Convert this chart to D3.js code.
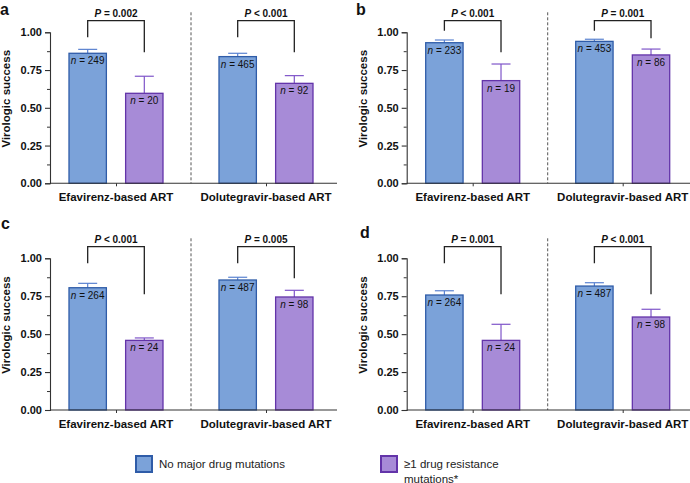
<!DOCTYPE html>
<html>
<head>
<meta charset="utf-8">
<script src="https://cdn.jsdelivr.net/npm/d3@7/dist/d3.min.js"></script>
<style>
  body { margin: 0; background: #fff; }
  svg { display: block; font-family: "Liberation Sans", Arial, Helvetica, sans-serif; }
</style>
</head>
<body>
<svg id="chart" width="690" height="483"></svg>
<script>
// ---------- DATA ----------
const groups = ["Efavirenz-based ART", "Dolutegravir-based ART"];
const series = ["No major drug mutations", "≥1 drug resistance mutations*"];
const panelIds = ["a", "b", "c", "d"];
const yTicks = [0, 0.25, 0.5, 0.75, 1.0];
const yMinorTicks = [0.125, 0.375, 0.625, 0.875];
const yLabel = "Virologic success";

// values ordered: [EFV-noMut, EFV-mut, DTG-noMut, DTG-mut]
const successA = [0.861, 0.596, 0.839, 0.662];
const upperA   = [0.887, 0.709, 0.861, 0.713];
const nA       = [249, 20, 465, 92];
const pA       = ["= 0.002", "< 0.001"];
const bracketLegA = [[0.967, 0.868], [0.967, 0.868]];

const successB = [0.931, 0.680, 0.940, 0.850];
const upperB   = [0.949, 0.790, 0.954, 0.889];
const nB       = [233, 19, 453, 86];
const pB       = ["< 0.001", "= 0.001"];
const bracketLegB = [[1.011, 0.868], [1.011, 0.960]];

const successC = [0.806, 0.459, 0.857, 0.745];
const upperC   = [0.835, 0.475, 0.875, 0.789];
const nC       = [264, 24, 487, 98];
const pC       = ["< 0.001", "= 0.005"];
const bracketLegC = [[0.967, 0.763], [0.967, 0.868]];

const successD = [0.758, 0.459, 0.817, 0.613];
const upperD   = [0.786, 0.565, 0.839, 0.664];
const nD       = [264, 24, 487, 98];
const pD       = ["= 0.001", "< 0.001"];
const bracketLegD = [[0.967, 0.763], [0.967, 0.763]];

const bracketTop = 1.077;

const panelData = {
  a: {v: successA, up: upperA, n: nA, p: pA, legs: bracketLegA},
  b: {v: successB, up: upperB, n: nB, p: pB, legs: bracketLegB},
  c: {v: successC, up: upperC, n: nC, p: pC, legs: bracketLegC},
  d: {v: successD, up: upperD, n: nD, p: pD, legs: bracketLegD}
};

// ---------- STYLE / LAYOUT ----------
const fills   = ["#7ba2d9", "#a78bd7"];
const strokes = ["#2f5ca8", "#6334a9"];
const errCol  = ["#5a82d0", "#7f55c9"];
const layout = {
  a: {x: 50,    y0: 183.3, y1: 32.3,  lx: 0,   ly: 15},
  b: {x: 406.7, y0: 183.3, y1: 32.3,  lx: 356, ly: 15},
  c: {x: 50,    y0: 410,   y1: 258.3, lx: 1,   ly: 229},
  d: {x: 406.7, y0: 410,   y1: 258.3, lx: 360, ly: 238}
};
const plotW = 287;

const svg = d3.select("#chart");

panelIds.forEach(id => {
  const L = layout[id], D = panelData[id];
  const g = svg.append("g");
  const y = d3.scaleLinear().domain([0, 1]).range([L.y0, L.y1]);
  const x = d3.scalePoint().domain(groups).range([L.x + 66, L.x + 216]);
  const xi = d3.scaleBand().domain(series).range([-47, 47]).paddingInner(0.34).paddingOuter(0);

  // panel letter
  g.append("text").attr("x", L.lx).attr("y", L.ly)
    .attr("font-size", 16).attr("font-weight", "bold").attr("fill", "#111").text(id);

  // divider
  const midX = (x(groups[0]) + x(groups[1])) / 2;
  g.append("line").attr("x1", midX).attr("x2", midX)
    .attr("y1", y(1) - 20).attr("y2", L.y0)
    .attr("stroke", "#555").attr("stroke-width", 1).attr("stroke-dasharray", "3,2");

  // bars
  const rows = [];
  groups.forEach((gr, gi) => series.forEach((s, si) => {
    const k = gi * 2 + si;
    rows.push({gr, s, si, v: D.v[k], up: D.up[k], n: D.n[k]});
  }));

  rows.forEach(r => {
    const cx = x(r.gr) + xi(r.s) + xi.bandwidth() / 2;
    // error bar (upper)
    g.append("line").attr("x1", cx).attr("x2", cx).attr("y1", y(r.v)).attr("y2", y(r.up))
      .attr("stroke", errCol[r.si]).attr("stroke-width", 1.2);
    g.append("line").attr("x1", cx - 9.5).attr("x2", cx + 9.5).attr("y1", y(r.up)).attr("y2", y(r.up))
      .attr("stroke", errCol[r.si]).attr("stroke-width", 1.2);
    g.append("rect")
      .attr("x", x(r.gr) + xi(r.s)).attr("y", y(r.v))
      .attr("width", xi.bandwidth()).attr("height", y(0) - y(r.v))
      .attr("fill", fills[r.si]).attr("stroke", strokes[r.si]).attr("stroke-width", 1.3);
    const t = g.append("text").attr("x", cx).attr("y", y(r.v) + 11)
      .attr("text-anchor", "middle").attr("font-size", 10).attr("fill", "#111");
    t.append("tspan").attr("font-style", "italic").text("n");
    t.append("tspan").text(" = " + r.n);
  });

  // brackets
  groups.forEach((gr, gi) => {
    const xl = x(gr) + xi(series[0]) + xi.bandwidth() / 2;
    const xr = x(gr) + xi(series[1]) + xi.bandwidth() / 2;
    const legs = D.legs[gi];
    g.append("path")
      .attr("d", `M${xl},${y(legs[0])}V${y(bracketTop)}H${xr}V${y(legs[1])}`)
      .attr("fill", "none").attr("stroke", "#222").attr("stroke-width", 1.3);
    const t = g.append("text").attr("x", (xl + xr) / 2).attr("y", y(bracketTop) - 4)
      .attr("text-anchor", "middle").attr("font-size", 10).attr("font-weight", "bold").attr("fill", "#111");
    t.append("tspan").attr("font-style", "italic").text("P");
    t.append("tspan").text(" " + D.p[gi]);
  });

  // y axis
  const yAxis = d3.axisLeft(y).tickValues(yTicks).tickFormat(d3.format(".2f")).tickSize(5).tickPadding(3);
  const ya = g.append("g").attr("transform", `translate(${L.x},0)`).call(yAxis);
  ya.select(".domain").attr("stroke", "#333").attr("stroke-width", 1.1);
  ya.selectAll(".tick line").attr("stroke", "#333").attr("stroke-width", 1.1);
  ya.selectAll(".tick text").attr("font-size", 11).attr("font-weight", "bold").attr("fill", "#111")
    .attr("font-family", "Liberation Sans, Arial, sans-serif");
  const ym = d3.axisLeft(y).tickValues(yMinorTicks).tickFormat("").tickSize(3);
  const ymg = g.append("g").attr("transform", `translate(${L.x},0)`).call(ym);
  ymg.select(".domain").remove();
  ymg.selectAll(".tick line").attr("stroke", "#333").attr("stroke-width", 1);

  // x axis
  const xAxis = d3.axisBottom(x).tickSize(3).tickFormat("");
  const xa = g.append("g").attr("transform", `translate(0,${L.y0})`).call(xAxis);
  xa.select(".domain").attr("d", `M${L.x},0H${L.x + plotW}`).attr("stroke", "#333").attr("stroke-width", 1.1);
  xa.selectAll(".tick line").attr("stroke", "#333");
  groups.forEach(gr => {
    g.append("text").attr("x", x(gr)).attr("y", L.y0 + 18)
      .attr("text-anchor", "middle").attr("font-size", 11.5).attr("font-weight", "bold")
      .attr("fill", "#111").text(gr);
  });

  // y label
  g.append("text")
    .attr("transform", `translate(${L.x - 40},${y(0.56)}) rotate(-90)`)
    .attr("text-anchor", "middle").attr("font-size", 11.5).attr("font-weight", "bold")
    .attr("fill", "#111").text(yLabel);
});

// ---------- LEGEND ----------
const legendPos = [{x: 135, y: 455}, {x: 380, y: 455}];
const legendLines = [["No major drug mutations"], ["≥1 drug resistance", "mutations*"]];
series.forEach((s, i) => {
  const p = legendPos[i];
  svg.append("rect").attr("x", p.x + 1).attr("y", p.y + 1).attr("width", 16).attr("height", 16)
    .attr("fill", fills[i]).attr("stroke", strokes[i]).attr("stroke-width", 2);
  const t = svg.append("text").attr("x", p.x + 24).attr("y", p.y + 13)
    .attr("font-size", 11.5).attr("fill", "#222");
  legendLines[i].forEach((ln, li) => {
    t.append("tspan").attr("x", p.x + 24).attr("dy", li === 0 ? 0 : 14.5).text(ln);
  });
});
</script>
</body>
</html>
